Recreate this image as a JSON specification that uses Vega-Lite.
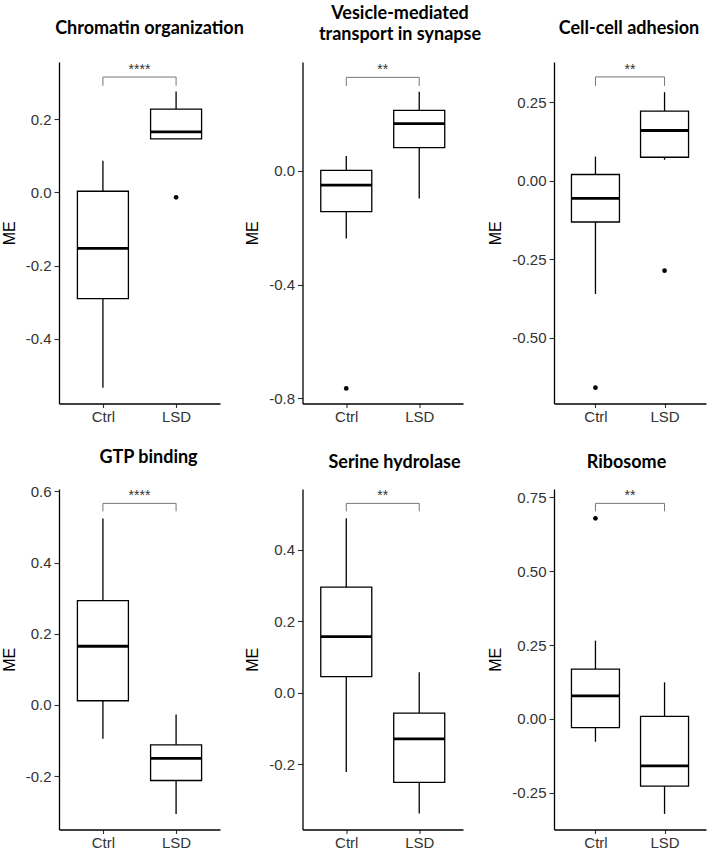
{
  "$schema": "https://vega.github.io/schema/vega-lite/v6.json",
  "background": "white",
  "autosize": {"type": "none"},
  "padding": {"left": 59, "top": 62, "right": 650, "bottom": 791},
  "datasets": {
    "boxes": [
      {"panel": "Chromatin organization", "group": "Ctrl", "lower": -0.533, "q1": -0.290, "median": -0.153, "q3": 0.003, "upper": 0.086},
      {"panel": "Chromatin organization", "group": "LSD", "lower": 0.146, "q1": 0.146, "median": 0.165, "q3": 0.227, "upper": 0.275},
      {"panel": "Vesicle-mediated transport in synapse", "group": "Ctrl", "lower": -0.238, "q1": -0.143, "median": -0.050, "q3": 0.002, "upper": 0.052},
      {"panel": "Vesicle-mediated transport in synapse", "group": "LSD", "lower": -0.097, "q1": 0.082, "median": 0.166, "q3": 0.213, "upper": 0.278},
      {"panel": "Cell-cell adhesion", "group": "Ctrl", "lower": -0.360, "q1": -0.131, "median": -0.056, "q3": 0.020, "upper": 0.077},
      {"panel": "Cell-cell adhesion", "group": "LSD", "lower": 0.067, "q1": 0.075, "median": 0.160, "q3": 0.222, "upper": 0.282},
      {"panel": "GTP binding", "group": "Ctrl", "lower": -0.095, "q1": 0.012, "median": 0.165, "q3": 0.293, "upper": 0.524},
      {"panel": "GTP binding", "group": "LSD", "lower": -0.306, "q1": -0.212, "median": -0.150, "q3": -0.112, "upper": -0.027},
      {"panel": "Serine hydrolase", "group": "Ctrl", "lower": -0.222, "q1": 0.045, "median": 0.157, "q3": 0.295, "upper": 0.488},
      {"panel": "Serine hydrolase", "group": "LSD", "lower": -0.338, "q1": -0.251, "median": -0.129, "q3": -0.057, "upper": 0.057},
      {"panel": "Ribosome", "group": "Ctrl", "lower": -0.077, "q1": -0.029, "median": 0.078, "q3": 0.169, "upper": 0.265},
      {"panel": "Ribosome", "group": "LSD", "lower": -0.321, "q1": -0.227, "median": -0.159, "q3": 0.009, "upper": 0.124}
    ],
    "outliers": [
      {"panel": "Chromatin organization", "group": "LSD", "value": -0.0135},
      {"panel": "Vesicle-mediated transport in synapse", "group": "Ctrl", "value": -0.765},
      {"panel": "Cell-cell adhesion", "group": "Ctrl", "value": -0.658},
      {"panel": "Cell-cell adhesion", "group": "LSD", "value": -0.286},
      {"panel": "Ribosome", "group": "Ctrl", "value": 0.679}
    ],
    "brackets": [
      {"panel": "Chromatin organization", "group": "Ctrl", "y": 0.3145, "tip": 0.2908, "label": "****"},
      {"panel": "Chromatin organization", "group": "LSD", "y": 0.3145, "tip": 0.2908, "label": "****"},
      {"panel": "Vesicle-mediated transport in synapse", "group": "Ctrl", "y": 0.329, "tip": 0.2986, "label": "**"},
      {"panel": "Vesicle-mediated transport in synapse", "group": "LSD", "y": 0.329, "tip": 0.2986, "label": "**"},
      {"panel": "Cell-cell adhesion", "group": "Ctrl", "y": 0.3306, "tip": 0.302, "label": "**"},
      {"panel": "Cell-cell adhesion", "group": "LSD", "y": 0.3306, "tip": 0.302, "label": "**"},
      {"panel": "GTP binding", "group": "Ctrl", "y": 0.5663, "tip": 0.5439, "label": "****"},
      {"panel": "GTP binding", "group": "LSD", "y": 0.5663, "tip": 0.5439, "label": "****"},
      {"panel": "Serine hydrolase", "group": "Ctrl", "y": 0.5294, "tip": 0.5071, "label": "**"},
      {"panel": "Serine hydrolase", "group": "LSD", "y": 0.5294, "tip": 0.5071, "label": "**"},
      {"panel": "Ribosome", "group": "Ctrl", "y": 0.7297, "tip": 0.7027, "label": "**"},
      {"panel": "Ribosome", "group": "LSD", "y": 0.7297, "tip": 0.7027, "label": "**"}
    ]
  },
  "columns": 3,
  "spacing": {"row": 85, "column": 82.5},
  "bounds": "flush",
  "align": "none",
  "concat": [
    {
      "width": 161, "height": 341.5,
      "title": {"text": "Chromatin organization", "dx": 10, "offset": 24},
      "encoding": {"x": {"field": "group", "type": "nominal", "title": null, "scale": {"type": "point", "domain": ["Ctrl", "LSD"], "padding": 0.6}}},
      "layer": [
        {"data": {"name": "boxes"}, "transform": [{"filter": "datum.panel === 'Chromatin organization'"}],
         "mark": {"type": "rule", "color": "black", "strokeWidth": 1.3},
         "encoding": {"y": {"field": "lower", "type": "quantitative", "title": "ME", "scale": {"domain": [-0.576, 0.3555], "nice": false, "zero": false},
           "axis": {"values": [-0.4, -0.2, 0, 0.2], "labelExpr": "datum.value < 0 ? '-' + format(-datum.value, '.1f') : format(datum.value, '.1f')"}},
           "y2": {"field": "upper"}}},
        {"data": {"name": "boxes"}, "transform": [{"filter": "datum.panel === 'Chromatin organization'"}],
         "mark": {"type": "bar", "size": 51, "fill": "white", "stroke": "black", "strokeWidth": 1.3},
         "encoding": {"y": {"field": "q1", "type": "quantitative"}, "y2": {"field": "q3"}}},
        {"data": {"name": "boxes"}, "transform": [{"filter": "datum.panel === 'Chromatin organization'"}],
         "mark": {"type": "tick", "size": 51, "thickness": 2.8, "color": "black", "opacity": 1},
         "encoding": {"y": {"field": "median", "type": "quantitative"}}},
        {"data": {"name": "outliers"}, "transform": [{"filter": "datum.panel === 'Chromatin organization'"}],
         "mark": {"type": "point", "filled": true, "size": 22, "color": "black", "opacity": 1},
         "encoding": {"y": {"field": "value", "type": "quantitative"}}},
        {"data": {"name": "brackets"}, "transform": [{"filter": "datum.panel === 'Chromatin organization'"}],
         "mark": {"type": "line", "color": "#777", "strokeWidth": 1},
         "encoding": {"y": {"field": "y", "type": "quantitative"}}},
        {"data": {"name": "brackets"}, "transform": [{"filter": "datum.panel === 'Chromatin organization'"}],
         "mark": {"type": "rule", "color": "#777", "strokeWidth": 1},
         "encoding": {"y": {"field": "y", "type": "quantitative"}, "y2": {"field": "tip"}}},
        {"data": {"name": "brackets"}, "transform": [{"filter": "datum.panel === 'Chromatin organization' && datum.group === 'Ctrl'"}],
         "mark": {"type": "text", "dx": 36.6, "dy": -3, "fontSize": 14, "font": "Liberation Sans", "baseline": "alphabetic", "align": "center", "color": "#333"},
         "encoding": {"y": {"field": "y", "type": "quantitative"}, "text": {"field": "label"}}}
      ]
    },
    {
      "width": 169, "height": 341.5,
      "title": {"text": ["Vesicle-mediated", "transport in synapse"], "dx": 13, "offset": 18.5, "lineHeight": 21},
      "encoding": {"x": {"field": "group", "type": "nominal", "title": null, "scale": {"type": "point", "domain": ["Ctrl", "LSD"], "padding": 0.6, "range": [0, 160.5]}}},
      "layer": [
        {"data": {"name": "boxes"}, "transform": [{"filter": "datum.panel === 'Vesicle-mediated transport in synapse'"}],
         "mark": {"type": "rule", "color": "black", "strokeWidth": 1.3},
         "encoding": {"y": {"field": "lower", "type": "quantitative", "title": "ME", "scale": {"domain": [-0.818, 0.383], "nice": false, "zero": false},
           "axis": {"values": [-0.8, -0.4, 0], "labelExpr": "datum.value < 0 ? '-' + format(-datum.value, '.1f') : format(datum.value, '.1f')"}},
           "y2": {"field": "upper"}}},
        {"data": {"name": "boxes"}, "transform": [{"filter": "datum.panel === 'Vesicle-mediated transport in synapse'"}],
         "mark": {"type": "bar", "size": 51, "fill": "white", "stroke": "black", "strokeWidth": 1.3},
         "encoding": {"y": {"field": "q1", "type": "quantitative"}, "y2": {"field": "q3"}}},
        {"data": {"name": "boxes"}, "transform": [{"filter": "datum.panel === 'Vesicle-mediated transport in synapse'"}],
         "mark": {"type": "tick", "size": 51, "thickness": 2.8, "color": "black", "opacity": 1},
         "encoding": {"y": {"field": "median", "type": "quantitative"}}},
        {"data": {"name": "outliers"}, "transform": [{"filter": "datum.panel === 'Vesicle-mediated transport in synapse'"}],
         "mark": {"type": "point", "filled": true, "size": 22, "color": "black", "opacity": 1},
         "encoding": {"y": {"field": "value", "type": "quantitative"}}},
        {"data": {"name": "brackets"}, "transform": [{"filter": "datum.panel === 'Vesicle-mediated transport in synapse'"}],
         "mark": {"type": "line", "color": "#777", "strokeWidth": 1},
         "encoding": {"y": {"field": "y", "type": "quantitative"}}},
        {"data": {"name": "brackets"}, "transform": [{"filter": "datum.panel === 'Vesicle-mediated transport in synapse'"}],
         "mark": {"type": "rule", "color": "#777", "strokeWidth": 1},
         "encoding": {"y": {"field": "y", "type": "quantitative"}, "y2": {"field": "tip"}}},
        {"data": {"name": "brackets"}, "transform": [{"filter": "datum.panel === 'Vesicle-mediated transport in synapse' && datum.group === 'Ctrl'"}],
         "mark": {"type": "text", "dx": 36.5, "dy": -3, "fontSize": 14, "font": "Liberation Sans", "baseline": "alphabetic", "align": "center", "color": "#333"},
         "encoding": {"y": {"field": "y", "type": "quantitative"}, "text": {"field": "label"}}}
      ]
    },
    {
      "width": 152, "height": 341.5,
      "title": {"text": "Cell-cell adhesion", "dx": -1, "offset": 24},
      "encoding": {"x": {"field": "group", "type": "nominal", "title": null, "scale": {"type": "point", "domain": ["Ctrl", "LSD"], "padding": 0.6}}},
      "layer": [
        {"data": {"name": "boxes"}, "transform": [{"filter": "datum.panel === 'Cell-cell adhesion'"}],
         "mark": {"type": "rule", "color": "black", "strokeWidth": 1.3},
         "encoding": {"y": {"field": "lower", "type": "quantitative", "title": "ME", "scale": {"domain": [-0.7085, 0.378], "nice": false, "zero": false},
           "axis": {"values": [-0.5, -0.25, 0, 0.25], "labelExpr": "datum.value < 0 ? '-' + format(-datum.value, '.2f') : format(datum.value, '.2f')"}},
           "y2": {"field": "upper"}}},
        {"data": {"name": "boxes"}, "transform": [{"filter": "datum.panel === 'Cell-cell adhesion'"}],
         "mark": {"type": "bar", "size": 48, "fill": "white", "stroke": "black", "strokeWidth": 1.3},
         "encoding": {"y": {"field": "q1", "type": "quantitative"}, "y2": {"field": "q3"}}},
        {"data": {"name": "boxes"}, "transform": [{"filter": "datum.panel === 'Cell-cell adhesion'"}],
         "mark": {"type": "tick", "size": 48, "thickness": 2.8, "color": "black", "opacity": 1},
         "encoding": {"y": {"field": "median", "type": "quantitative"}}},
        {"data": {"name": "outliers"}, "transform": [{"filter": "datum.panel === 'Cell-cell adhesion'"}],
         "mark": {"type": "point", "filled": true, "size": 22, "color": "black", "opacity": 1},
         "encoding": {"y": {"field": "value", "type": "quantitative"}}},
        {"data": {"name": "brackets"}, "transform": [{"filter": "datum.panel === 'Cell-cell adhesion'"}],
         "mark": {"type": "line", "color": "#777", "strokeWidth": 1},
         "encoding": {"y": {"field": "y", "type": "quantitative"}}},
        {"data": {"name": "brackets"}, "transform": [{"filter": "datum.panel === 'Cell-cell adhesion'"}],
         "mark": {"type": "rule", "color": "#777", "strokeWidth": 1},
         "encoding": {"y": {"field": "y", "type": "quantitative"}, "y2": {"field": "tip"}}},
        {"data": {"name": "brackets"}, "transform": [{"filter": "datum.panel === 'Cell-cell adhesion' && datum.group === 'Ctrl'"}],
         "mark": {"type": "text", "dx": 34.5, "dy": -3, "fontSize": 14, "font": "Liberation Sans", "baseline": "alphabetic", "align": "center", "color": "#333"},
         "encoding": {"y": {"field": "y", "type": "quantitative"}, "text": {"field": "label"}}}
      ]
    },
    {
      "width": 161, "height": 340.5,
      "title": {"text": "GTP binding", "dx": 9, "offset": 17},
      "encoding": {"x": {"field": "group", "type": "nominal", "title": null, "scale": {"type": "point", "domain": ["Ctrl", "LSD"], "padding": 0.6}}},
      "layer": [
        {"data": {"name": "boxes"}, "transform": [{"filter": "datum.panel === 'GTP binding'"}],
         "mark": {"type": "rule", "color": "black", "strokeWidth": 1.3},
         "encoding": {"y": {"field": "lower", "type": "quantitative", "title": "ME", "scale": {"domain": [-0.3497, 0.6067], "nice": false, "zero": false},
           "axis": {"values": [-0.2, 0, 0.2, 0.4, 0.6], "labelExpr": "datum.value < 0 ? '-' + format(-datum.value, '.1f') : format(datum.value, '.1f')"}},
           "y2": {"field": "upper"}}},
        {"data": {"name": "boxes"}, "transform": [{"filter": "datum.panel === 'GTP binding'"}],
         "mark": {"type": "bar", "size": 51, "fill": "white", "stroke": "black", "strokeWidth": 1.3},
         "encoding": {"y": {"field": "q1", "type": "quantitative"}, "y2": {"field": "q3"}}},
        {"data": {"name": "boxes"}, "transform": [{"filter": "datum.panel === 'GTP binding'"}],
         "mark": {"type": "tick", "size": 51, "thickness": 2.8, "color": "black", "opacity": 1},
         "encoding": {"y": {"field": "median", "type": "quantitative"}}},
        {"data": {"name": "brackets"}, "transform": [{"filter": "datum.panel === 'GTP binding'"}],
         "mark": {"type": "line", "color": "#777", "strokeWidth": 1},
         "encoding": {"y": {"field": "y", "type": "quantitative"}}},
        {"data": {"name": "brackets"}, "transform": [{"filter": "datum.panel === 'GTP binding'"}],
         "mark": {"type": "rule", "color": "#777", "strokeWidth": 1},
         "encoding": {"y": {"field": "y", "type": "quantitative"}, "y2": {"field": "tip"}}},
        {"data": {"name": "brackets"}, "transform": [{"filter": "datum.panel === 'GTP binding' && datum.group === 'Ctrl'"}],
         "mark": {"type": "text", "dx": 36.6, "dy": -3, "fontSize": 14, "font": "Liberation Sans", "baseline": "alphabetic", "align": "center", "color": "#333"},
         "encoding": {"y": {"field": "y", "type": "quantitative"}, "text": {"field": "label"}}}
      ]
    },
    {
      "width": 169, "height": 340.5,
      "title": {"text": "Serine hydrolase", "dx": 7.5, "offset": 17},
      "encoding": {"x": {"field": "group", "type": "nominal", "title": null, "scale": {"type": "point", "domain": ["Ctrl", "LSD"], "padding": 0.6, "range": [0, 160.5]}}},
      "layer": [
        {"data": {"name": "boxes"}, "transform": [{"filter": "datum.panel === 'Serine hydrolase'"}],
         "mark": {"type": "rule", "color": "black", "strokeWidth": 1.3},
         "encoding": {"y": {"field": "lower", "type": "quantitative", "title": "ME", "scale": {"domain": [-0.3826, 0.5696], "nice": false, "zero": false},
           "axis": {"values": [-0.2, 0, 0.2, 0.4], "labelExpr": "datum.value < 0 ? '-' + format(-datum.value, '.1f') : format(datum.value, '.1f')"}},
           "y2": {"field": "upper"}}},
        {"data": {"name": "boxes"}, "transform": [{"filter": "datum.panel === 'Serine hydrolase'"}],
         "mark": {"type": "bar", "size": 51, "fill": "white", "stroke": "black", "strokeWidth": 1.3},
         "encoding": {"y": {"field": "q1", "type": "quantitative"}, "y2": {"field": "q3"}}},
        {"data": {"name": "boxes"}, "transform": [{"filter": "datum.panel === 'Serine hydrolase'"}],
         "mark": {"type": "tick", "size": 51, "thickness": 2.8, "color": "black", "opacity": 1},
         "encoding": {"y": {"field": "median", "type": "quantitative"}}},
        {"data": {"name": "brackets"}, "transform": [{"filter": "datum.panel === 'Serine hydrolase'"}],
         "mark": {"type": "line", "color": "#777", "strokeWidth": 1},
         "encoding": {"y": {"field": "y", "type": "quantitative"}}},
        {"data": {"name": "brackets"}, "transform": [{"filter": "datum.panel === 'Serine hydrolase'"}],
         "mark": {"type": "rule", "color": "#777", "strokeWidth": 1},
         "encoding": {"y": {"field": "y", "type": "quantitative"}, "y2": {"field": "tip"}}},
        {"data": {"name": "brackets"}, "transform": [{"filter": "datum.panel === 'Serine hydrolase' && datum.group === 'Ctrl'"}],
         "mark": {"type": "text", "dx": 36.5, "dy": -3, "fontSize": 14, "font": "Liberation Sans", "baseline": "alphabetic", "align": "center", "color": "#333"},
         "encoding": {"y": {"field": "y", "type": "quantitative"}, "text": {"field": "label"}}}
      ]
    },
    {
      "width": 152, "height": 340.5,
      "title": {"text": "Ribosome", "dx": -3.5, "offset": 17},
      "encoding": {"x": {"field": "group", "type": "nominal", "title": null, "scale": {"type": "point", "domain": ["Ctrl", "LSD"], "padding": 0.6}}},
      "layer": [
        {"data": {"name": "boxes"}, "transform": [{"filter": "datum.panel === 'Ribosome'"}],
         "mark": {"type": "rule", "color": "black", "strokeWidth": 1.3},
         "encoding": {"y": {"field": "lower", "type": "quantitative", "title": "ME", "scale": {"domain": [-0.374, 0.7783], "nice": false, "zero": false},
           "axis": {"values": [-0.25, 0, 0.25, 0.5, 0.75], "labelExpr": "datum.value < 0 ? '-' + format(-datum.value, '.2f') : format(datum.value, '.2f')"}},
           "y2": {"field": "upper"}}},
        {"data": {"name": "boxes"}, "transform": [{"filter": "datum.panel === 'Ribosome'"}],
         "mark": {"type": "bar", "size": 48, "fill": "white", "stroke": "black", "strokeWidth": 1.3},
         "encoding": {"y": {"field": "q1", "type": "quantitative"}, "y2": {"field": "q3"}}},
        {"data": {"name": "boxes"}, "transform": [{"filter": "datum.panel === 'Ribosome'"}],
         "mark": {"type": "tick", "size": 48, "thickness": 2.8, "color": "black", "opacity": 1},
         "encoding": {"y": {"field": "median", "type": "quantitative"}}},
        {"data": {"name": "outliers"}, "transform": [{"filter": "datum.panel === 'Ribosome'"}],
         "mark": {"type": "point", "filled": true, "size": 22, "color": "black", "opacity": 1},
         "encoding": {"y": {"field": "value", "type": "quantitative"}}},
        {"data": {"name": "brackets"}, "transform": [{"filter": "datum.panel === 'Ribosome'"}],
         "mark": {"type": "line", "color": "#777", "strokeWidth": 1},
         "encoding": {"y": {"field": "y", "type": "quantitative"}}},
        {"data": {"name": "brackets"}, "transform": [{"filter": "datum.panel === 'Ribosome'"}],
         "mark": {"type": "rule", "color": "#777", "strokeWidth": 1},
         "encoding": {"y": {"field": "y", "type": "quantitative"}, "y2": {"field": "tip"}}},
        {"data": {"name": "brackets"}, "transform": [{"filter": "datum.panel === 'Ribosome' && datum.group === 'Ctrl'"}],
         "mark": {"type": "text", "dx": 34.5, "dy": -3, "fontSize": 14, "font": "Liberation Sans", "baseline": "alphabetic", "align": "center", "color": "#333"},
         "encoding": {"y": {"field": "y", "type": "quantitative"}, "text": {"field": "label"}}}
      ]
    }
  ],
  "config": {
    "view": {"stroke": null},
    "title": {"font": "Lato", "fontWeight": "bold", "fontSize": 18, "color": "black", "frame": "group", "anchor": "middle", "baseline": "alphabetic"},
    "axis": {"grid": false, "domainColor": "black", "domainWidth": 1.3, "tickColor": "#333", "tickWidth": 1.1,
             "labelFont": "Liberation Sans", "labelFontSize": 15, "labelColor": "#333",
             "titleFont": "Liberation Sans", "titleFontSize": 16, "titleFontWeight": "normal", "titleColor": "black"},
    "axisY": {"tickSize": 5, "labelPadding": 3, "titlePadding": 8},
    "axisX": {"tickSize": 4, "labelPadding": 2, "labelAngle": 0}
  }
}
